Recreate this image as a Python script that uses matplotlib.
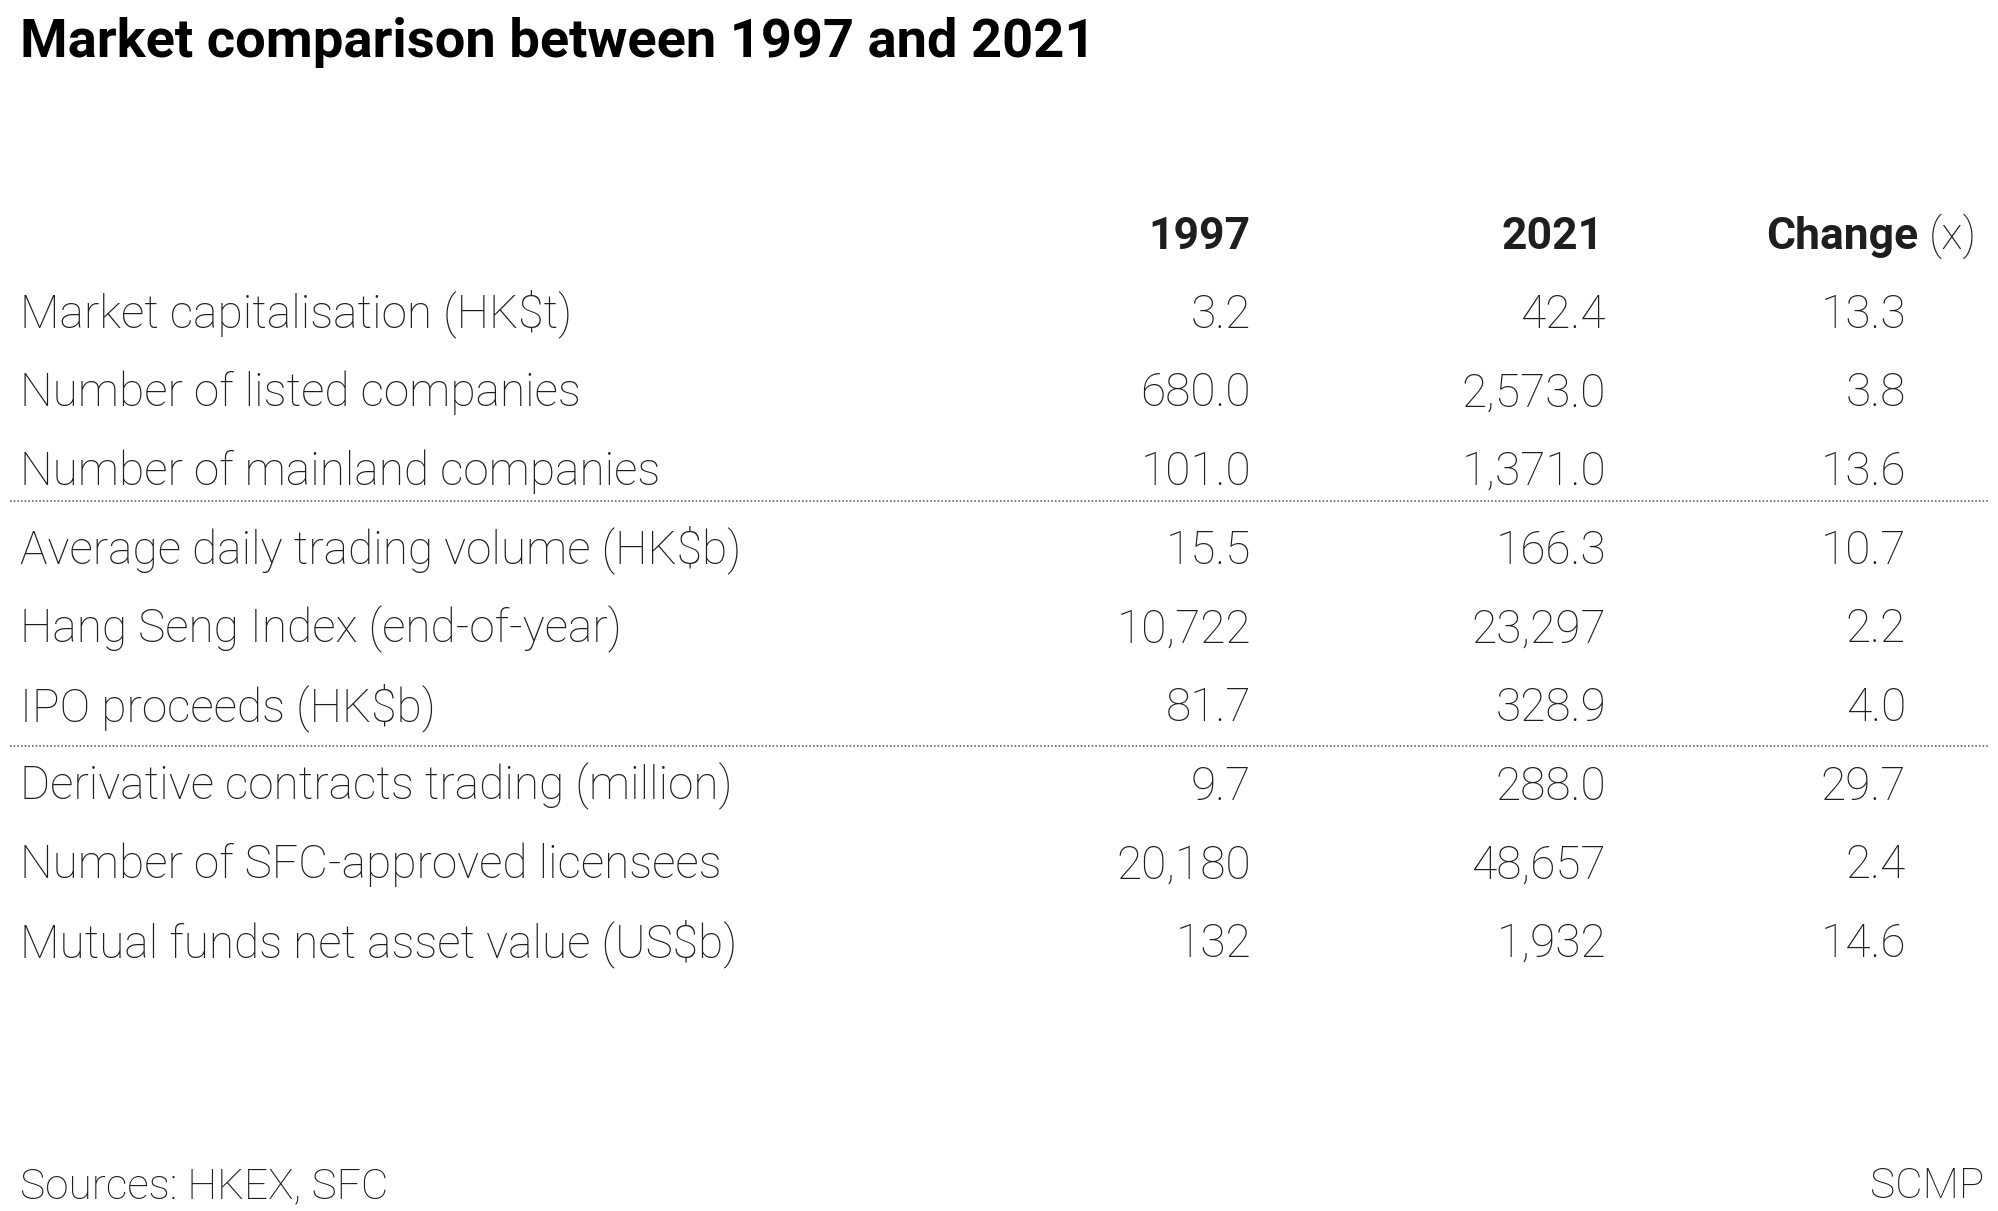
import matplotlib.pyplot as plt

# table data
labels = [
    "Market capitalisation (HK$t)",
    "Number of listed companies",
    "Number of mainland companies",
    "Average daily trading volume (HK$b)",
    "Hang Seng Index (end-of-year)",
    "IPO proceeds (HK$b)",
    "Derivative contracts trading (million)",
    "Number of SFC-approved licensees",
    "Mutual funds net asset value (US$b)",
]
v1997 = [3.2, 680.0, 101.0, 15.5, 10722, 81.7, 9.7, 20180, 132]
v2021 = [42.4, 2573.0, 1371.0, 166.3, 23297, 328.9, 288.0, 48657, 1932]
change = [13.3, 3.8, 13.6, 10.7, 2.2, 4.0, 29.7, 2.4, 14.6]
decimals = [1, 1, 1, 1, 0, 1, 1, 0, 0]
separators_after = [2, 5]  # dotted line after these rows

W, H = 1999, 1211
plt.rcParams["font.family"] = ["Roboto", "DejaVu Sans"]
fig = plt.figure(figsize=(W / 100, H / 100), dpi=100)
ax = fig.add_axes([0, 0, 1, 1])
ax.set_xlim(0, W)
ax.set_ylim(H, 0)
ax.axis("off")

txt = "#1e1e1e"
fs = 33.1

ax.text(20, 57, "Market comparison between 1997 and 2021", fontsize=39.1,
        fontweight="bold", color="black", va="baseline", ha="left")

# header
hy = 249
ax.text(1251, hy, "1997", fontsize=32, fontweight="bold", color=txt, ha="right", va="baseline")
ax.text(1604, hy, "2021", fontsize=32, fontweight="bold", color=txt, ha="right", va="baseline")
xt = ax.text(1977, hy, "(x)", fontsize=32, fontweight="light", color=txt, ha="right", va="baseline")
r = fig.canvas.get_renderer()
x0 = ax.transData.inverted().transform(xt.get_window_extent(r))[0][0]
ax.text(x0 - 11, hy, "Change", fontsize=32, fontweight="bold", color=txt, ha="right", va="baseline")

base0, step = 327.5, 78.7
line_off = {2: 0.41, 5: 0.53}
for i, lab in enumerate(labels):
    y = base0 + i * step
    ax.text(20, y, lab, fontsize=fs, fontweight="light", color=txt, ha="left", va="baseline")
    ax.text(1251, y, f"{v1997[i]:,.{decimals[i]}f}", fontsize=fs, fontweight="light",
            color=txt, ha="right", va="baseline")
    ax.text(1606, y, f"{v2021[i]:,.{decimals[i]}f}", fontsize=fs, fontweight="light",
            color=txt, ha="right", va="baseline")
    ax.text(1906, y, f"{change[i]:.1f}", fontsize=fs, fontweight="light",
            color=txt, ha="right", va="baseline")
    if i in separators_after:
        ly = y - 16.5 + step * line_off[i]
        ax.plot([10, 1989], [ly, ly], color="#4d4d4d", lw=1.1, ls=(0, (1, 1.4)))

ax.text(20, 1198, "Sources: HKEX, SFC", fontsize=30.5, fontweight="light", color=txt,
        ha="left", va="baseline")
ax.text(1984, 1198, "SCMP", fontsize=30.5, fontweight="light", color=txt,
        ha="right", va="baseline")

fig.savefig("out.png", dpi=100)
